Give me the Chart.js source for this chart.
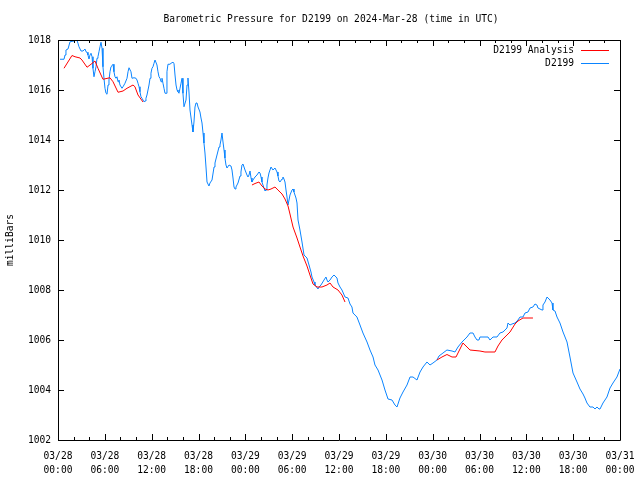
<!DOCTYPE html>
<html><head><meta charset="utf-8">
<script src="https://cdn.jsdelivr.net/npm/chart.js@4"></script>
<style>html,body{margin:0;padding:0;background:#fff}canvas{display:block}</style>
</head><body>
<canvas id="c" width="640" height="480"></canvas>
<script>
const titleText = "Barometric Pressure for D2199 on 2024-Mar-28 (time in UTC)";
const yAxisLabel = "milliBars";
const seriesNames = ["D2199 Analysis", "D2199"];
const xTickLabels = [
  ["03/28","00:00"],["03/28","06:00"],["03/28","12:00"],["03/28","18:00"],
  ["03/29","00:00"],["03/29","06:00"],["03/29","12:00"],["03/29","18:00"],
  ["03/30","00:00"],["03/30","06:00"],["03/30","12:00"],["03/30","18:00"],
  ["03/31","00:00"]
];
const yTickValues = [1002,1004,1006,1008,1010,1012,1014,1016,1018];

// hours since 03/28 00:00 UTC
const buoyHours = [0.26,0.77,0.90,1.02,1.28,1.54,2.05,2.18,2.43,2.56,2.69,2.95,3.20,3.46,3.59,3.72,3.84,3.97,4.10,4.23,4.36,4.48,4.61,4.74,4.87,5.00,5.12,5.25,5.38,5.51,5.64,5.76,5.89,6.02,6.15,6.28,6.41,6.53,6.66,6.79,6.92,7.05,7.17,7.30,7.43,7.56,7.69,7.81,7.94,8.20,8.33,8.58,8.84,8.97,9.10,9.35,9.48,9.74,9.99,10.12,10.25,10.38,10.50,10.63,10.76,10.89,11.02,11.15,11.27,11.40,11.53,11.66,11.79,11.91,12.04,12.17,12.30,12.43,12.55,12.68,12.81,12.94,13.07,13.20,13.32,13.45,13.58,13.71,13.84,13.96,14.09,14.35,14.48,14.73,14.86,14.99,15.12,15.25,15.37,15.50,15.63,15.76,15.89,16.01,16.14,16.40,16.53,16.65,16.78,16.91,17.17,17.29,17.42,17.55,17.68,17.81,17.94,18.19,18.32,18.45,18.58,18.70,18.83,18.96,19.09,19.34,19.47,19.73,19.99,20.11,20.37,20.63,20.75,20.88,21.01,21.14,21.27,21.39,21.52,21.65,21.91,22.16,22.29,22.42,22.55,22.68,22.80,23.06,23.32,23.44,23.57,23.70,23.96,24.21,24.34,24.47,24.60,24.73,24.85,24.98,25.24,25.49,25.75,25.88,26.01,26.13,26.26,26.52,26.65,26.77,26.90,27.03,27.16,27.29,27.54,27.80,28.06,28.18,28.31,28.44,28.70,28.82,28.95,29.08,29.21,29.34,29.47,29.72,29.98,30.11,30.23,30.49,30.62,30.75,31.00,31.26,31.52,31.90,32.16,32.41,32.54,32.80,32.92,33.31,33.44,33.69,34.08,34.33,34.46,34.59,34.85,35.10,35.36,35.49,35.74,35.87,36.13,36.38,36.77,37.15,37.41,37.66,37.79,38.30,38.69,39.07,39.59,39.97,40.36,40.61,41.00,41.51,41.89,42.28,42.79,43.17,43.43,43.81,44.20,44.71,45.10,45.48,45.99,46.38,46.76,47.27,47.66,48.04,48.55,48.81,49.32,49.83,50.48,50.86,51.24,51.76,52.14,52.40,52.78,53.17,53.42,53.68,53.93,54.06,55.09,55.34,55.73,56.24,56.62,57.01,57.52,57.65,57.91,58.16,58.55,58.93,59.19,59.57,59.83,60.21,60.47,60.85,61.11,61.36,61.49,61.75,62.01,62.13,62.39,62.65,62.77,63.03,63.29,63.41,63.67,63.93,64.31,64.70,65.21,65.59,65.98,66.49,66.87,67.26,67.51,67.77,68.15,68.54,68.80,69.05,69.31,69.44,69.82,70.33,70.72,71.10,71.61,72.00];
const buoyPressure = [1017.23,1017.23,1017.40,1017.60,1017.64,1017.93,1017.96,1018.00,1017.99,1017.87,1017.73,1017.56,1017.56,1017.64,1017.53,1017.51,1017.40,1017.24,1017.40,1017.47,1017.33,1016.87,1016.53,1016.73,1016.93,1017.27,1017.33,1017.53,1017.73,1017.91,1017.67,1016.93,1016.47,1016.07,1015.87,1015.83,1016.20,1016.40,1016.73,1016.93,1016.97,1017.03,1016.73,1016.53,1016.47,1016.53,1016.33,1016.40,1016.20,1016.07,1016.13,1016.27,1016.47,1016.73,1016.89,1016.73,1016.47,1016.49,1016.47,1016.40,1016.27,1016.13,1015.93,1015.73,1015.67,1015.60,1015.53,1015.56,1015.67,1015.80,1016.00,1016.20,1016.47,1016.67,1016.87,1016.93,1017.07,1017.20,1017.20,1017.00,1016.73,1016.53,1016.47,1016.33,1016.47,1016.27,1016.07,1015.87,1015.87,1016.73,1017.03,1017.03,1017.07,1017.11,1017.07,1016.60,1016.20,1016.00,1015.93,1015.87,1016.07,1016.27,1016.47,1015.87,1015.33,1015.60,1016.20,1016.48,1015.92,1015.20,1014.60,1014.32,1014.72,1015.32,1015.48,1015.48,1015.32,1015.12,1014.88,1014.68,1014.28,1013.88,1013.48,1012.92,1012.32,1012.16,1012.28,1012.40,1012.92,1013.08,1013.40,1013.72,1013.80,1014.00,1014.28,1013.92,1013.60,1013.28,1013.00,1012.88,1013.00,1012.96,1012.80,1012.48,1012.12,1012.04,1012.12,1012.28,1012.56,1012.72,1013.00,1013.04,1012.80,1012.60,1012.52,1012.60,1012.76,1012.48,1012.32,1012.40,1012.52,1012.60,1012.72,1012.68,1012.52,1012.32,1012.20,1011.96,1012.00,1012.20,1012.48,1012.68,1012.80,1012.92,1012.80,1012.88,1012.72,1012.56,1012.36,1012.32,1012.44,1012.52,1012.44,1012.32,1012.00,1011.72,1011.40,1011.80,1012.00,1012.04,1011.92,1011.68,1011.48,1010.80,1010.40,1009.92,1009.40,1009.28,1009.00,1008.72,1008.52,1008.32,1008.20,1008.04,1008.12,1008.20,1008.40,1008.52,1008.40,1008.32,1008.40,1008.52,1008.60,1008.56,1008.48,1008.28,1008.12,1008.00,1007.72,1007.68,1007.44,1007.32,1007.08,1006.92,1006.60,1006.28,1005.92,1005.60,1005.32,1005.00,1004.80,1004.40,1004.00,1003.64,1003.60,1003.40,1003.32,1003.68,1003.92,1004.20,1004.52,1004.52,1004.40,1004.72,1004.92,1005.12,1005.00,1005.08,1005.20,1005.36,1005.48,1005.60,1005.56,1005.52,1005.72,1005.92,1006.04,1006.12,1006.28,1006.28,1006.12,1006.00,1006.00,1006.12,1006.12,1006.00,1006.12,1006.12,1006.28,1006.32,1006.48,1006.68,1006.60,1006.64,1006.68,1006.80,1006.92,1006.92,1007.08,1007.12,1007.28,1007.32,1007.44,1007.40,1007.28,1007.24,1007.20,1007.40,1007.52,1007.72,1007.72,1007.60,1007.48,1007.20,1007.16,1006.92,1006.68,1006.32,1005.92,1005.32,1004.68,1004.32,1004.04,1003.84,1003.68,1003.48,1003.32,1003.32,1003.24,1003.32,1003.24,1003.24,1003.48,1003.72,1004.08,1004.28,1004.52,1004.84];

// analysis: null marks a gap in the analysis record
const analysisHours = [0.77,1.79,2.18,2.82,3.07,3.72,4.23,4.74,5.12,5.76,6.66,7.05,7.69,8.33,8.84,9.61,9.86,10.25,10.89,11.00,24.85,25.24,25.75,26.13,26.52,26.90,27.29,27.80,28.18,28.70,29.08,29.47,29.72,30.11,30.62,31.00,31.39,31.90,32.28,32.67,33.18,33.82,34.46,34.85,35.23,35.87,36.38,36.77,37.00,48.55,49.19,49.83,50.48,50.99,51.50,51.88,52.40,52.78,54.06,54.70,55.98,56.37,56.88,57.52,57.91,58.55,58.93,59.57,60.85];
const analysisPressure = [1016.87,1017.38,1017.33,1017.28,1017.20,1016.91,1017.03,1017.16,1016.87,1016.43,1016.49,1016.33,1015.91,1015.96,1016.07,1016.20,1016.13,1015.80,1015.52,null,1012.20,1012.26,1012.32,1012.16,1012.04,1012.00,1012.04,1012.12,1012.00,1011.84,1011.64,1011.36,1011.04,1010.52,1010.08,1009.72,1009.36,1008.96,1008.60,1008.24,1008.12,1008.12,1008.20,1008.28,1008.12,1008.00,1007.80,1007.52,null,1005.20,1005.32,1005.42,1005.32,1005.32,1005.64,1005.88,1005.72,1005.60,1005.56,1005.52,1005.52,1005.76,1006.00,1006.20,1006.32,1006.64,1006.76,1006.88,1006.88];

const FONT = "DejaVu Sans Mono";
const FSIZE = 9.6;

const toPoints = (xs, ys) => xs.map((x, i) => ({x: x, y: ys[i]}));

const framePlugin = {
  id: 'gnuframe',
  afterDraw(chart) {
    const ctx = chart.ctx, a = chart.chartArea;
    const xs = chart.scales.x, ys = chart.scales.y;
    ctx.save();
    ctx.strokeStyle = '#000';
    ctx.lineWidth = 1;
    ctx.beginPath();
    ctx.rect(Math.round(a.left) + 0.5, Math.round(a.top) + 0.5, Math.round(a.right - a.left), Math.round(a.bottom - a.top));
    ctx.stroke();
    ctx.beginPath();
    yTickValues.forEach(v => {
      const y = Math.round(ys.getPixelForValue(v)) + 0.5;
      ctx.moveTo(a.left, y); ctx.lineTo(a.left + 6, y);
      ctx.moveTo(a.right, y); ctx.lineTo(a.right - 6, y);
    });
    for (let h = 0; h <= 72; h += 2) {
      const x = Math.round(xs.getPixelForValue(h)) + 0.5;
      const len = (h % 6 === 0) ? 6 : 3;
      ctx.moveTo(x, a.bottom); ctx.lineTo(x, a.bottom - len);
      ctx.moveTo(x, a.top); ctx.lineTo(x, a.top + len);
    }
    ctx.stroke();

    ctx.fillStyle = '#000';
    ctx.font = FSIZE + 'px "' + FONT + '"';
    ctx.textAlign = 'center'; ctx.textBaseline = 'middle';
    ctx.fillText(titleText, 331, 19);
    ctx.save();
    ctx.translate(10, 240);
    ctx.rotate(-Math.PI / 2);
    ctx.fillText(yAxisLabel, 0, 0);
    ctx.restore();
    chart.data.datasets.forEach((ds, i) => {
      const y = 50 + i * 13;
      ctx.textAlign = 'right';
      ctx.fillStyle = '#000';
      ctx.fillText(ds.label, 574, y);
      ctx.strokeStyle = ds.borderColor;
      ctx.beginPath();
      ctx.moveTo(581, Math.round(y) + 0.5); ctx.lineTo(609, Math.round(y) + 0.5);
      ctx.stroke();
    });
    ctx.restore();
  }
};

new Chart(document.getElementById('c'), {
  type: 'line',
  data: {
    datasets: [
      { label: seriesNames[0], data: toPoints(analysisHours, analysisPressure),
        borderColor: '#ff0000', borderWidth: 1, pointRadius: 0, tension: 0, spanGaps: false, fill: false },
      { label: seriesNames[1], data: toPoints(buoyHours, buoyPressure),
        borderColor: '#0a84ff', borderWidth: 1, pointRadius: 0, tension: 0, spanGaps: false, fill: false }
    ]
  },
  options: {
    responsive: false,
    animation: false,
    devicePixelRatio: 1,
    layout: { padding: { top: 40, right: 20, left: 0, bottom: 0 } },
    plugins: { legend: { display: false }, title: { display: false }, tooltip: { enabled: false } },
    scales: {
      x: {
        type: 'linear', min: 0, max: 72,
        afterBuildTicks: s => { s.ticks = xTickLabels.map((_, i) => ({ value: i * 6 })); },
        afterFit: s => { s.height = 40; s.paddingLeft = 0; s.paddingRight = 0; },
        grid: { display: false, drawTicks: false },
        border: { display: false },
        ticks: {
          autoSkip: false, maxRotation: 0, padding: 9, color: '#000',
          font: { family: FONT, size: FSIZE, lineHeight: '14px' },
          callback: (v, i) => xTickLabels[i]
        }
      },
      y: {
        type: 'linear', min: 1002, max: 1018,
        afterBuildTicks: s => { s.ticks = yTickValues.map(v => ({ value: v })); },
        afterFit: s => { s.width = 58; s.paddingTop = 0; s.paddingBottom = 0; },
        grid: { display: false, drawTicks: false },
        border: { display: false },
        ticks: {
          padding: 7, color: '#000',
          font: { family: FONT, size: FSIZE },
          callback: (v, i) => String(yTickValues[i])
        }
      }
    }
  },
  plugins: [framePlugin]
});
</script>
</body></html>
